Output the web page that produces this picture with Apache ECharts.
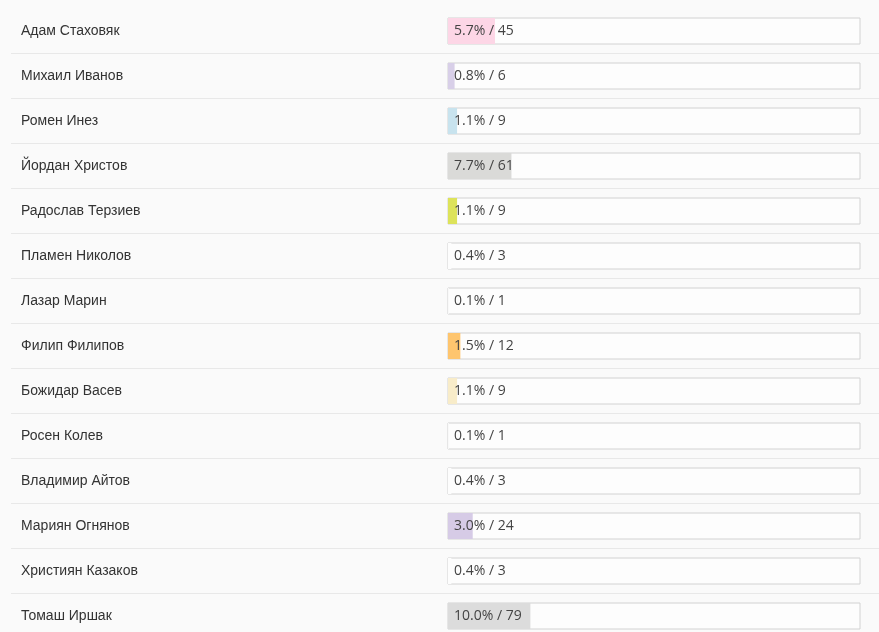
<!DOCTYPE html>
<html lang="ru">
<head>
    <meta charset="UTF-8">
    <title>Статистика</title>
    <script type="text/javascript" src="https://cdn.jsdelivr.net/npm/echarts@6/dist/echarts.min.js"></script>
    <style>
        html, body { margin: 0; padding: 0; background: #fafafa; overflow: hidden; }
    </style>
</head>
<body>
<!-- блок чуть выше окна, чтобы последняя строка не сжималась -->
<div id="main" style="width: 879px;height:645px;"></div>
<script type="text/javascript">
    // данные
    var names = ['Адам Стаховяк', 'Михаил Иванов', 'Ромен Инез', 'Йордан Христов', 'Радослав Терзиев',
        'Пламен Николов', 'Лазар Марин', 'Филип Филипов', 'Божидар Васев', 'Росен Колев',
        'Владимир Айтов', 'Мариян Огнянов', 'Християн Казаков', 'Томаш Иршак'];
    var percents = [5.7, 0.8, 1.1, 7.7, 1.1, 0.4, 0.1, 1.5, 1.1, 0.1, 0.4, 3.0, 0.4, 10.0];
    var counts = [45, 6, 9, 61, 9, 3, 1, 12, 9, 1, 3, 24, 3, 79];
    var colors = ['#fdd6e6', '#d8cfe8', '#c8e3ee', '#dadad8', '#dde35a', '#fdfdfd', '#fdfdfd',
        '#fec56e', '#f8ecc9', '#fdfdfd', '#fdfdfd', '#d6cbe6', '#fdfdfd', '#dcdcdc'];

    var barData = percents.map(function (p, i) {
        return { value: p, itemStyle: { color: colors[i] } };
    });

    var option = {
        animation: false,
        backgroundColor: '#fafafa',
        grid: [
            { left: 448, right: 19, top: 8.5, height: 630 },
            // сетка для разделителей строк
            { left: 11, right: 0, top: 53.5, height: 585 }
        ],
        xAxis: [
            { gridIndex: 0, type: 'value', min: 0, max: 50, show: false },
            { gridIndex: 1, type: 'value', min: 0, max: 1, show: false }
        ],
        yAxis: [
            {
                gridIndex: 0,
                type: 'category',
                inverse: true,
                data: names,
                axisLine: { show: false },
                axisTick: { show: false },
                splitLine: { show: false },
                axisLabel: {
                    align: 'left',
                    margin: 427,
                    color: '#333',
                    fontSize: 14,
                    fontFamily: 'Liberation Sans'
                }
            },
            {
                gridIndex: 1,
                type: 'category',
                inverse: true,
                data: names.slice(1),
                axisLine: { show: false },
                axisTick: { show: false },
                axisLabel: { show: false },
                splitLine: { show: true, lineStyle: { color: '#e8e8e8', width: 1 } }
            }
        ],
        series: [
            {
                type: 'bar',
                xAxisIndex: 0,
                yAxisIndex: 0,
                data: barData,
                barWidth: 26,
                showBackground: true,
                backgroundStyle: {
                    color: '#fdfdfd',
                    borderColor: '#d2d2d2',
                    borderWidth: 1
                },
                label: {
                    show: true,
                    position: 'insideLeft',
                    distance: 6,
                    color: '#444',
                    fontSize: 14,
                    fontFamily: 'Open Sans',
                    formatter: function (p) {
                        return percents[p.dataIndex].toFixed(1) + '% / ' + counts[p.dataIndex];
                    }
                }
            }
        ]
    };

    var myChart = echarts.init(document.getElementById('main'));
    myChart.setOption(option);
</script>
</body>
</html>
